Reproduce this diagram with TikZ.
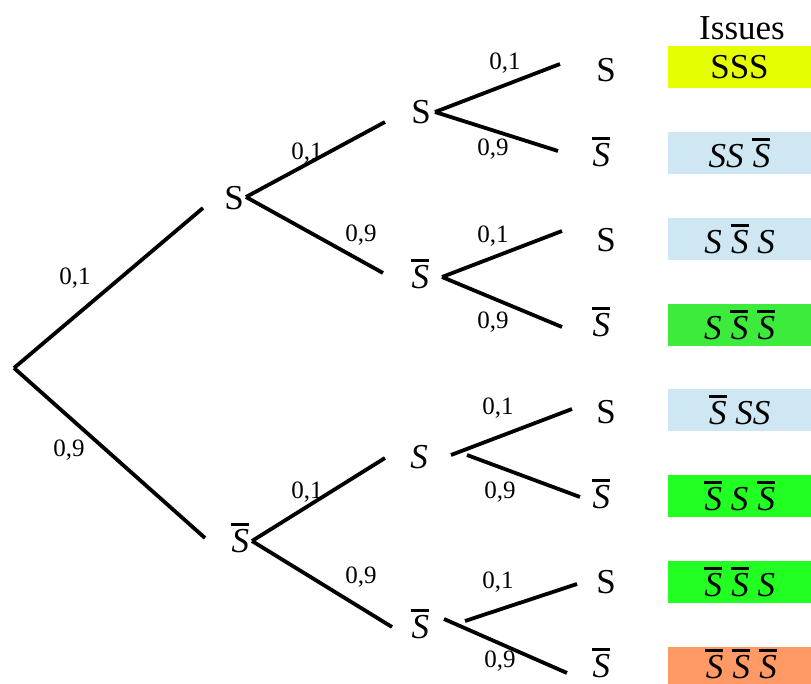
\documentclass[tikz,border=0pt]{standalone}
\usepackage{fontspec}
\setmainfont{Liberation Serif}
\newcommand{\sbarS}{\hbox{\vbox{\hrule height 2.8pt\kern 3pt\hbox{\kern0.5pt\textit{S\/}}}}}
\definecolor{yellowc}{HTML}{E5FF00}
\definecolor{bluec}{HTML}{CFE6F3}
\definecolor{greenA}{HTML}{3DEB3D}
\definecolor{greenB}{HTML}{22FF22}
\definecolor{orangec}{HTML}{FF9966}
\begin{document}
\begin{tikzpicture}[x=1pt,y=-1pt,
  lv/.style={inner sep=0pt, font=\fontsize{35}{35}\selectfont},
  lab/.style={inner sep=0pt, font=\fontsize{25}{25}\selectfont},
  br/.style={line width=3.8pt},
  res/.style={minimum width=143pt, minimum height=42pt, inner sep=0pt, font=\fontsize{35}{35}\selectfont}]
\useasboundingbox (0,0) rectangle (811,684);
% nodes
\coordinate (root) at (14,368);
\node[lv] (n1) at (234,198) {S};
\node[lv] (n2) at (240,538) {\sbarS};
\node[lv] (n3) at (421,112) {S};
\node[lv] (n4) at (420,274) {\sbarS};
\node[lv] (n5) at (419,457) {\textit{S}};
\node[lv] (n6) at (420,624) {\sbarS};
\node[lv] (L1) at (606,70) {S};
\node[lv] (L2) at (601,152) {\sbarS};
\node[lv] (L3) at (606,240) {S};
\node[lv] (L4) at (601,322) {\sbarS};
\node[lv] (L5) at (606,412) {S};
\node[lv] (L6) at (601,494) {\sbarS};
\node[lv] (L7) at (606,582) {S};
\node[lv] (L8) at (601,663) {\sbarS};
% branches
\draw[br] (root) -- ([shift={(-31,10)}]n1.center);
\draw[br] (root) -- ([shift={(-35,0)}]n2.center);
\draw[br] ([shift={(12,-1)}]n1.center) -- ([shift={(-36,10)}]n3.center);
\draw[br] ([shift={(12,-1)}]n1.center) -- ([shift={(-37,-1)}]n4.center);
\draw[br] ([shift={(12,3)}]n2.center) -- ([shift={(-34,1)}]n5.center);
\draw[br] ([shift={(12,3)}]n2.center) -- ([shift={(-28,3)}]n6.center);
\draw[br] ([shift={(14,0)}]n3.center) -- ([shift={(-46,-6)}]L1.center);
\draw[br] ([shift={(14,0)}]n3.center) -- ([shift={(-43,-1)}]L2.center);
\draw[br] ([shift={(22,3)}]n4.center) -- ([shift={(-44,-9)}]L3.center);
\draw[br] ([shift={(22,3)}]n4.center) -- ([shift={(-39,5)}]L4.center);
\draw[br] ([shift={(32,-2)}]n5.center) -- ([shift={(-34,-3)}]L5.center);
\draw[br] ([shift={(48,-2)}]n5.center) -- ([shift={(-21,3)}]L6.center);
\draw[br] ([shift={(45,-3)}]n6.center) -- ([shift={(-29,2)}]L7.center);
\draw[br] ([shift={(24,-5)}]n6.center) -- ([shift={(-34,10)}]L8.center);
% probability labels
\node[lab] (p1) at (75,278) {0,1};
\node[lab] (p2) at (69,450) {0,9};
\node[lab] (p3) at (307,153) {0,1};
\node[lab] (p4) at (361,235) {0,9};
\node[lab] (p5) at (307,492) {0,1};
\node[lab] (p6) at (361,577) {0,9};
\node[lab] (p7) at (505,63) {0,1};
\node[lab] (p8) at (493,149) {0,9};
\node[lab] (p9) at (493,236) {0,1};
\node[lab] (p10) at (493,322) {0,9};
\node[lab] (p11) at (498,408) {0,1};
\node[lab] (p12) at (500,492) {0,9};
\node[lab] (p13) at (498,582) {0,1};
\node[lab] (p14) at (500,661) {0,9};
% results
\node[res] (iss) at (742,28) {Issues};
\node[res, fill=yellowc] (r1) at (739.5,67.5) {SSS};
\node[res, fill=bluec] (r2) at (739.5,153) {\textit{SS} \sbarS};
\node[res, fill=bluec] (r3) at (739.5,239) {\textit{S} \sbarS\ \textit{S}};
\node[res, fill=greenA] (r4) at (739.5,325) {\textit{S} \sbarS\ \sbarS};
\node[res, fill=bluec] (r5) at (739.5,410) {\sbarS\ \textit{SS}};
\node[res, fill=greenB] (r6) at (739.5,496) {\sbarS\ \textit{S} \sbarS};
\node[res, fill=greenB] (r7) at (739.5,582) {\sbarS\ \sbarS\ \textit{S}};
\node[res, minimum height=37pt, fill=orangec] (r8) at (739.5,665.5) {};
\node[lv] (t8) at (741,664) {\sbarS\ \sbarS\ \sbarS};
\end{tikzpicture}
\end{document}
